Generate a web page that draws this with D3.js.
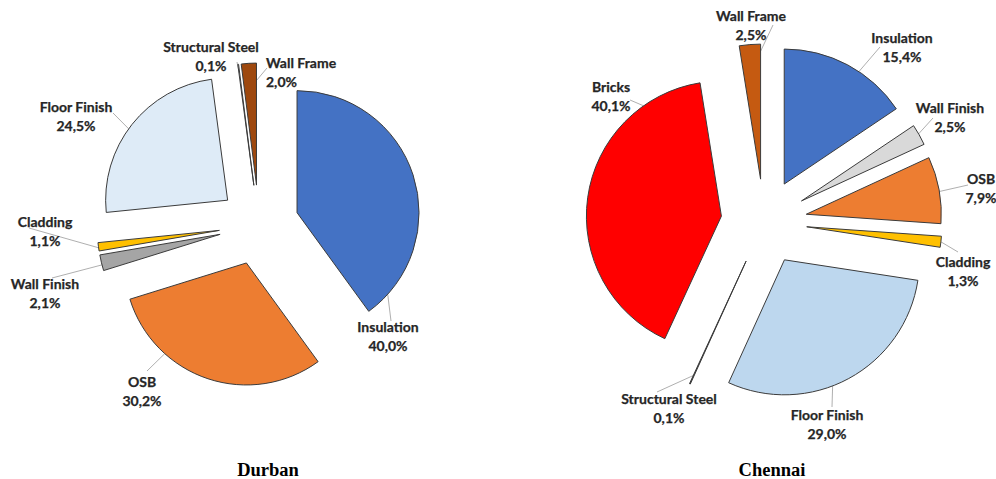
<!DOCTYPE html>
<html>
<head>
<meta charset="utf-8">
<script src="https://cdn.jsdelivr.net/npm/d3@7"></script>
<style>
  html, body { margin: 0; padding: 0; background: #ffffff; }
  svg { display: block; }
  .lbl { font-family: Lato, "Open Sans", sans-serif; font-weight: 700; font-size: 14px; fill: #262626; stroke: #262626; stroke-width: 0.25px; }
  .ttl { font-family: "Liberation Serif", "Times New Roman", serif; font-weight: 700; font-size: 18.5px; fill: #000; }
</style>
</head>
<body>
<script>
// ---------- DATA ----------
const durbanCategories = ["Insulation", "OSB", "Wall Finish", "Cladding", "Floor Finish", "Structural Steel", "Wall Frame"];
const durbanValues     = [40.0, 30.2, 2.1, 1.1, 24.5, 0.1, 2.0];

const chennaiCategories = ["Insulation", "Wall Finish", "OSB", "Cladding", "Floor Finish", "Structural Steel", "Bricks", "Wall Frame"];
const chennaiValues     = [15.4, 2.5, 7.9, 1.3, 29.0, 0.1, 40.1, 2.5];

const chartTitles = ["Durban", "Chennai"];

// ---------- STYLES ----------
const durbanColors  = ["#4472C4", "#ED7D31", "#A5A5A5", "#FFC000", "#DEEBF7", "#FFFFFF", "#9E480E"];
const chennaiColors = ["#4472C4", "#D9D9D9", "#ED7D31", "#FFC000", "#BDD7EE", "#404040", "#FF0000", "#C55A11"];

// ---------- LAYOUT ----------
// label: [x, y of first line centre, anchor]; end: label end of leader; slice: [angle deg, radius fraction]
const durbanLayout = {
  cx: 259, cy: 225, r: 122, explode: 40, titleX: 268,
  labels: [
    { x: 388, y: 327, anchor: "middle", end: [391, 321], slice: [132, 1] },
    { x: 142, y: 382, anchor: "middle", end: [147, 371], slice: [222, 1] },
    { x: 45,  y: 284, anchor: "middle", end: [52, 278],  slice: [255.5, 1] },
    { x: 45,  y: 222, anchor: "middle", end: [29, 228],  slice: [261.8, 1] },
    { x: 76,  y: 107, anchor: "middle", end: [113, 113], slice: [305.8, 1] },
    { x: 211, y: 47,  anchor: "middle", end: [237, 62],  slice: [352.6, 0.93] },
    { x: 266, y: 63,  anchor: "start",  end: [267, 68],  slice: [359.6, 0.85] }
  ]
};
const chennaiLayout = {
  cx: 764, cy: 222, r: 135, explode: 43, titleX: 772,
  labels: [
    { x: 902, y: 38,  anchor: "middle", end: [880, 47],  slice: [33.6, 1] },
    { x: 950, y: 108, anchor: "middle", end: [933, 118], slice: [60.2, 1] },
    { x: 981, y: 179, anchor: "middle", end: [968, 185], slice: [80.3, 1] },
    { x: 963, y: 262, anchor: "middle", end: [958, 252], slice: [96.4, 1] },
    { x: 827, y: 415, anchor: "middle", end: [832, 407], slice: [159.1, 1] },
    { x: 669, y: 399, anchor: "middle", end: [657, 392], slice: [null, 0.93] },
    { x: 611, y: 87,  anchor: "middle", end: [630, 100], slice: [324.8, 1] },
    { x: 751, y: 16,  anchor: "middle", end: [773, 25],  slice: [359.5, 0.93] }
  ]
};

const W = 996, H = 479, lineGap = 18.5;
const svg = d3.select("body").append("svg").attr("width", W).attr("height", H);
const fmt = v => d3.format(".1f")(v).replace(".", ",") + "%";

function drawPie(categories, values, colors, L, title) {
  const pie = d3.pie().sort(null).value(d => d)(values);
  const arc = d3.arc().innerRadius(0).outerRadius(L.r);
  const g = svg.append("g").attr("transform", `translate(${L.cx},${L.cy})`);

  const off = d => {
    const m = (d.startAngle + d.endAngle) / 2;
    return [L.explode * Math.sin(m), -L.explode * Math.cos(m)];
  };

  // leader lines (drawn below slices)
  const leaders = g.append("g");
  pie.forEach((d, i) => {
    const lab = L.labels[i];
    const o = off(d);
    const a = lab.slice[0] == null ? (d.startAngle + d.endAngle) / 2 : lab.slice[0] * Math.PI / 180;
    const rr = L.r * lab.slice[1];
    const sx = o[0] + rr * Math.sin(a), sy = o[1] - rr * Math.cos(a);
    leaders.append("line")
      .attr("x1", sx).attr("y1", sy)
      .attr("x2", lab.end[0] - L.cx).attr("y2", lab.end[1] - L.cy)
      .attr("stroke", "#a6a6a6").attr("stroke-width", 0.9);
  });

  g.selectAll("path.slice").data(pie).join("path")
    .attr("class", "slice")
    .attr("d", arc)
    .attr("transform", d => `translate(${off(d)[0]},${off(d)[1]})`)
    .attr("fill", (d, i) => colors[i])
    .attr("stroke", "#3b3b3b")
    .attr("stroke-width", 1)
    .attr("stroke-linejoin", "miter");

  pie.forEach((d, i) => {
    const lab = L.labels[i];
    const t = svg.append("text").attr("class", "lbl").attr("text-anchor", lab.anchor);
    t.append("tspan").attr("x", lab.x).attr("y", lab.y + 5).text(categories[i]);
    t.append("tspan").attr("x", lab.x).attr("y", lab.y + 5 + lineGap).text(fmt(values[i]));
  });

  svg.append("text").attr("class", "ttl").attr("text-anchor", "middle")
    .attr("x", L.titleX).attr("y", 476).text(title);
}

drawPie(durbanCategories, durbanValues, durbanColors, durbanLayout, chartTitles[0]);
drawPie(chennaiCategories, chennaiValues, chennaiColors, chennaiLayout, chartTitles[1]);
</script>
</body>
</html>
